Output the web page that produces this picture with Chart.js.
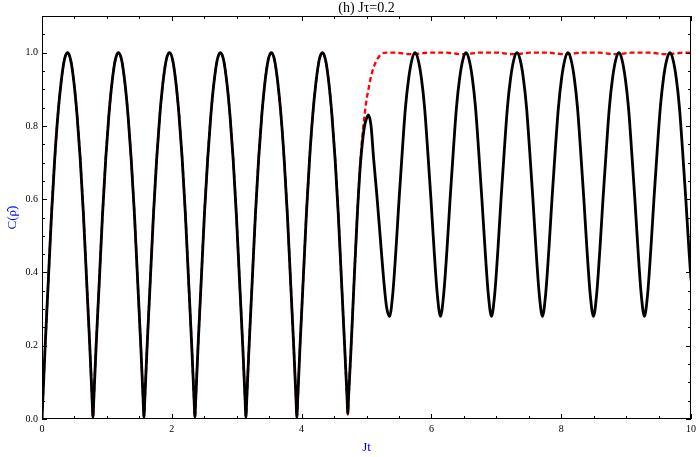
<!DOCTYPE html>
<html>
<head>
<meta charset="utf-8">
<script src="https://cdn.jsdelivr.net/npm/chart.js@4/dist/chart.umd.min.js"></script>
<style>
  html, body { margin: 0; padding: 0; background: #fff; }
  #wrap { width: 700px; height: 457px; }
</style>
</head>
<body>
<div id="wrap"><canvas id="c" width="700" height="457"></canvas></div>
<script>
// Jt values (x axis)
const jt = [
  0, 0.012, 0.049, 0.098, 0.147, 0.196, 0.245, 0.295, 0.344, 0.393, 0.442, 0.491, 0.540, 0.589, 0.638, 0.687, 0.736, 0.773,
  0.785, 0.797, 0.834, 0.884, 0.933, 0.982, 1.031, 1.080, 1.129, 1.178, 1.227, 1.276, 1.325, 1.374, 1.424, 1.473, 1.522, 1.559,
  1.571, 1.583, 1.620, 1.669, 1.718, 1.767, 1.816, 1.865, 1.914, 1.963, 2.013, 2.062, 2.111, 2.160, 2.209, 2.258, 2.307, 2.344,
  2.356, 2.368, 2.405, 2.454, 2.503, 2.553, 2.602, 2.651, 2.700, 2.749, 2.798, 2.847, 2.896, 2.945, 2.994, 3.043, 3.093, 3.130,
  3.142, 3.154, 3.191, 3.240, 3.289, 3.338, 3.387, 3.436, 3.485, 3.534, 3.583, 3.632, 3.682, 3.731, 3.780, 3.829, 3.878, 3.915,
  3.927, 3.939, 3.976, 4.025, 4.074, 4.123, 4.172, 4.222, 4.271, 4.320, 4.369, 4.418, 4.467, 4.516, 4.565, 4.614, 4.663, 4.700,
  4.712, 4.724,
  4.761, 4.810, 4.859, 4.908, 4.94, 4.97, 5.00, 5.03, 5.07, 5.11, 5.16, 5.21, 5.26, 5.31,
  5.355, 5.404, 5.453, 5.502, 5.551, 5.600, 5.650, 5.699, 5.748, 5.797, 5.846, 5.895, 5.944, 5.993, 6.042, 6.091,
  6.140, 6.189, 6.239, 6.288, 6.337, 6.386, 6.435, 6.484, 6.533, 6.582, 6.631, 6.680, 6.729, 6.778, 6.828, 6.877,
  6.926, 6.975, 7.024, 7.073, 7.122, 7.171, 7.220, 7.269, 7.318, 7.368, 7.417, 7.466, 7.515, 7.564, 7.613, 7.662,
  7.711, 7.760, 7.809, 7.858, 7.907, 7.957, 8.006, 8.055, 8.104, 8.153, 8.202, 8.251, 8.300, 8.349, 8.398, 8.447,
  8.497, 8.546, 8.595, 8.644, 8.693, 8.742, 8.791, 8.840, 8.889, 8.938, 8.987, 9.037, 9.086, 9.135, 9.184, 9.233,
  9.282, 9.331, 9.380, 9.429, 9.478, 9.527, 9.576, 9.626, 9.675, 9.724, 9.773, 9.822, 9.871, 9.920, 9.969,
  10.0
];

// black solid curve
const cBlack = [
  0, 0.05, 0.20, 0.38, 0.56, 0.71, 0.83, 0.92, 0.98, 1.0, 0.98, 0.92, 0.83, 0.71, 0.56, 0.38, 0.20, 0.05,
  0.005, 0.05, 0.20, 0.38, 0.56, 0.71, 0.83, 0.92, 0.98, 1.0, 0.98, 0.92, 0.83, 0.71, 0.56, 0.38, 0.20, 0.05,
  0.005, 0.05, 0.20, 0.38, 0.56, 0.71, 0.83, 0.92, 0.98, 1.0, 0.98, 0.92, 0.83, 0.71, 0.56, 0.38, 0.20, 0.05,
  0.005, 0.05, 0.20, 0.38, 0.56, 0.71, 0.83, 0.92, 0.98, 1.0, 0.98, 0.92, 0.83, 0.71, 0.56, 0.38, 0.20, 0.05,
  0.005, 0.05, 0.20, 0.38, 0.56, 0.71, 0.83, 0.92, 0.98, 1.0, 0.98, 0.92, 0.83, 0.71, 0.56, 0.38, 0.20, 0.05,
  0.005, 0.05, 0.20, 0.38, 0.56, 0.71, 0.83, 0.92, 0.98, 1.0, 0.98, 0.92, 0.83, 0.71, 0.56, 0.38, 0.20, 0.06,
  0.015, 0.06,
  0.19, 0.38, 0.56, 0.70, 0.76, 0.80, 0.82, 0.83, 0.80, 0.71, 0.61, 0.50, 0.39, 0.305,
  0.28, 0.34, 0.46, 0.60, 0.73, 0.85, 0.93, 0.98, 1.0, 0.98, 0.93, 0.85, 0.73, 0.60, 0.46, 0.34,
  0.28, 0.34, 0.46, 0.60, 0.73, 0.85, 0.93, 0.98, 1.0, 0.98, 0.93, 0.85, 0.73, 0.60, 0.46, 0.34,
  0.28, 0.34, 0.46, 0.60, 0.73, 0.85, 0.93, 0.98, 1.0, 0.98, 0.93, 0.85, 0.73, 0.60, 0.46, 0.34,
  0.28, 0.34, 0.46, 0.60, 0.73, 0.85, 0.93, 0.98, 1.0, 0.98, 0.93, 0.85, 0.73, 0.60, 0.46, 0.34,
  0.28, 0.34, 0.46, 0.60, 0.73, 0.85, 0.93, 0.98, 1.0, 0.98, 0.93, 0.85, 0.73, 0.60, 0.46, 0.34,
  0.28, 0.34, 0.46, 0.60, 0.73, 0.85, 0.93, 0.98, 1.0, 0.98, 0.93, 0.85, 0.73, 0.60, 0.46,
  0.38
];

// red dashed curve
const cRed = [
  0, 0.05, 0.20, 0.38, 0.56, 0.71, 0.83, 0.92, 0.98, 1.0, 0.98, 0.92, 0.83, 0.71, 0.56, 0.38, 0.20, 0.05,
  0.005, 0.05, 0.20, 0.38, 0.56, 0.71, 0.83, 0.92, 0.98, 1.0, 0.98, 0.92, 0.83, 0.71, 0.56, 0.38, 0.20, 0.05,
  0.005, 0.05, 0.20, 0.38, 0.56, 0.71, 0.83, 0.92, 0.98, 1.0, 0.98, 0.92, 0.83, 0.71, 0.56, 0.38, 0.20, 0.05,
  0.005, 0.05, 0.20, 0.38, 0.56, 0.71, 0.83, 0.92, 0.98, 1.0, 0.98, 0.92, 0.83, 0.71, 0.56, 0.38, 0.20, 0.05,
  0.005, 0.05, 0.20, 0.38, 0.56, 0.71, 0.83, 0.92, 0.98, 1.0, 0.98, 0.92, 0.83, 0.71, 0.56, 0.38, 0.20, 0.05,
  0.005, 0.05, 0.20, 0.38, 0.56, 0.71, 0.83, 0.92, 0.98, 1.0, 0.98, 0.92, 0.83, 0.71, 0.56, 0.38, 0.20, 0.06,
  0.012, 0.06,
  0.19, 0.38, 0.56, 0.71, 0.78, 0.83, 0.87, 0.90, 0.935, 0.96, 0.98, 0.993, 0.999, 1.0,
  1.0, 1.0, 1.0, 0.999, 0.998, 0.997, 0.996, 0.996, 0.996, 0.997, 0.998, 0.999, 1.0, 1.0, 1.0, 1.0,
  1.0, 1.0, 1.0, 0.999, 0.998, 0.997, 0.996, 0.996, 0.996, 0.997, 0.998, 0.999, 1.0, 1.0, 1.0, 1.0,
  1.0, 1.0, 1.0, 0.999, 0.998, 0.997, 0.996, 0.996, 0.996, 0.997, 0.998, 0.999, 1.0, 1.0, 1.0, 1.0,
  1.0, 1.0, 1.0, 0.999, 0.998, 0.997, 0.996, 0.996, 0.996, 0.997, 0.998, 0.999, 1.0, 1.0, 1.0, 1.0,
  1.0, 1.0, 1.0, 0.999, 0.998, 0.997, 0.996, 0.996, 0.996, 0.997, 0.998, 0.999, 1.0, 1.0, 1.0, 1.0,
  1.0, 1.0, 1.0, 0.999, 0.998, 0.997, 0.996, 0.996, 0.996, 0.997, 0.998, 0.999, 1.0, 1.0, 1.0,
  1.0
];

const xTicks = [0, 2, 4, 6, 8, 10];
const yTicks = [0, 0.2, 0.4, 0.6, 0.8, 1.0];

const serif = '"Liberation Serif", "DejaVu Serif", serif';

// Mathematica-style frame with inward ticks on all four sides
const framePlugin = {
  id: 'frame',
  afterDatasetsDraw(chart) {
    const { ctx, chartArea: a, scales: { x, y } } = chart;
    ctx.save();
    ctx.strokeStyle = '#000';
    ctx.lineWidth = 1;
    ctx.strokeRect(Math.round(a.left) + 0.5, Math.round(a.top) + 0.5,
      Math.round(a.right - a.left) - 1, Math.round(a.bottom - a.top) - 1);
    ctx.beginPath();
    for (let i = 0; i <= 20; i++) {
      const v = i * 0.5;
      const len = (i % 4 === 0) ? 5 : 3;
      const px = Math.round(x.getPixelForValue(v)) + 0.5;
      ctx.moveTo(px, a.bottom); ctx.lineTo(px, a.bottom - len);
      ctx.moveTo(px, a.top); ctx.lineTo(px, a.top + len);
    }
    for (let i = 0; i <= 22; i++) {
      const v = i * 0.05;
      const len = (i % 4 === 0) ? 5 : 3;
      const py = Math.round(y.getPixelForValue(v)) + 0.5;
      ctx.moveTo(a.left, py); ctx.lineTo(a.left + len, py);
      ctx.moveTo(a.right, py); ctx.lineTo(a.right - len, py);
    }
    ctx.stroke();
    ctx.restore();
  }
};

new Chart(document.getElementById('c'), {
  type: 'line',
  data: {
    datasets: [
      {
        label: 'black',
        data: jt.map((v, i) => ({ x: v, y: cBlack[i] })),
        borderColor: '#000',
        borderWidth: 2.8,
        borderJoinStyle: 'round',
        borderCapStyle: 'round',
        cubicInterpolationMode: 'monotone',
        pointRadius: 0,
        order: 1
      },
      {
        label: 'red',
        data: jt.map((v, i) => ({ x: v, y: cRed[i] })),
        borderColor: '#ff0000',
        borderWidth: 2.3,
        borderDash: [5, 3],
        borderJoinStyle: 'round',
        cubicInterpolationMode: 'monotone',
        pointRadius: 0,
        order: 2
      }
    ]
  },
  options: {
    responsive: false,
    animation: false,
    layout: { padding: { left: 0, right: 6, top: 0, bottom: 0 } },
    plugins: {
      legend: { display: false },
      tooltip: { enabled: false },
      title: {
        display: true,
        fullSize: false,
        text: '(h) J\u03c4=0.2',
        color: '#000',
        font: { family: serif, size: 14, weight: 'normal', lineHeight: 1 },
        padding: { top: 1, bottom: 1 }
      }
    },
    scales: {
      x: {
        type: 'linear',
        min: 0,
        max: 10,
        afterBuildTicks: s => { s.ticks = xTicks.map(v => ({ value: v })); },
        afterFit: s => { s.height = 38; },
        grid: { display: false, drawTicks: false },
        border: { display: false },
        ticks: { color: '#000', padding: 4, font: { family: serif, size: 10 } },
        title: {
          display: true,
          text: 'Jt',
          color: '#0000ff',
          font: { family: serif, size: 13 },
          padding: { top: 0, bottom: 2 }
        }
      },
      y: {
        type: 'linear',
        min: 0,
        max: 1.1,
        afterBuildTicks: s => { s.ticks = yTicks.map(v => ({ value: v })); },
        afterFit: s => { s.width = 42; },
        grid: { display: false, drawTicks: false },
        border: { display: false },
        ticks: {
          color: '#000',
          padding: 4,
          font: { family: serif, size: 10 },
          callback: v => v.toFixed(1)
        },
        title: {
          display: true,
          text: 'C(\u03c1\u0302)',
          color: '#0000ff',
          font: { family: serif, size: 13 },
          padding: { top: 5, bottom: 0 }
        }
      }
    }
  },
  plugins: [framePlugin]
});
</script>
</body>
</html>
